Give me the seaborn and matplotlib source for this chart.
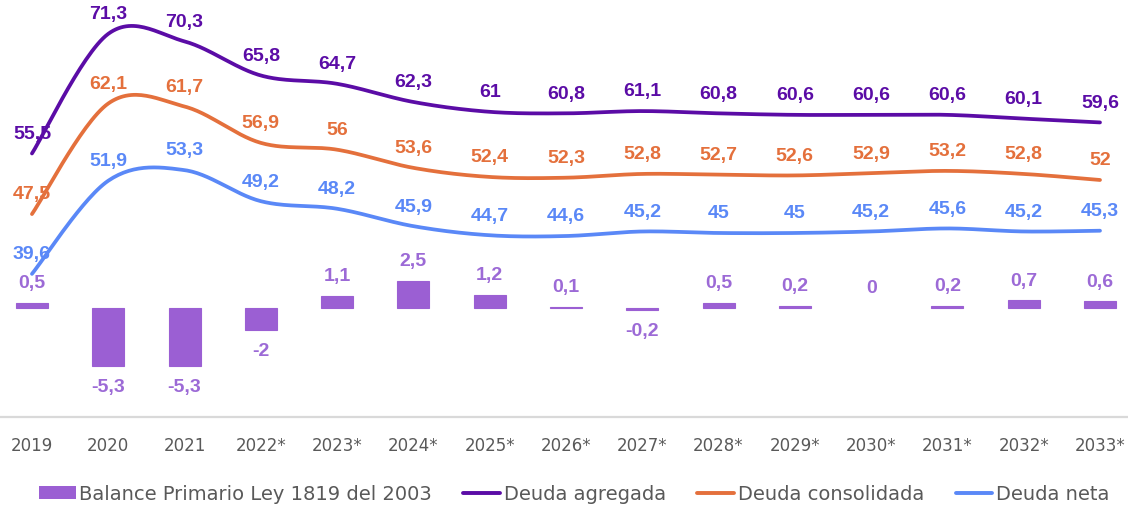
import numpy as np
import pandas as pd
import matplotlib
matplotlib.use("Agg")
import matplotlib.pyplot as plt
import seaborn as sns
from matplotlib.patches import Patch
from matplotlib.lines import Line2D

years = ["2019", "2020", "2021", "2022*", "2023*", "2024*", "2025*", "2026*",
         "2027*", "2028*", "2029*", "2030*", "2031*", "2032*", "2033*"]
balance = [0.5, -5.3, -5.3, -2, 1.1, 2.5, 1.2, 0.1, -0.2, 0.5, 0.2, 0, 0.2, 0.7, 0.6]
deuda_agregada = [55.5, 71.3, 70.3, 65.8, 64.7, 62.3, 61, 60.8, 61.1, 60.8, 60.6, 60.6, 60.6, 60.1, 59.6]
deuda_consolidada = [47.5, 62.1, 61.7, 56.9, 56, 53.6, 52.4, 52.3, 52.8, 52.7, 52.6, 52.9, 53.2, 52.8, 52]
deuda_neta = [39.6, 51.9, 53.3, 49.2, 48.2, 45.9, 44.7, 44.6, 45.2, 45, 45, 45.2, 45.6, 45.2, 45.3]

bar_color = "#9B5FD3"
bar_label_color = "#9C6AD6"
c_agr = "#5B0CA6"
c_con = "#E4703C"
c_net = "#5A88F7"
tick_color = "#595959"


def smooth(y, n=30):
    """Catmull-Rom style smoothing (as Excel's smoothed line) through the data points."""
    y = np.asarray(y, float)
    x = np.arange(len(y), dtype=float)
    xs, ys = [], []
    for i in range(len(y) - 1):
        p0 = np.array([x[i - 1] if i > 0 else x[i], y[i - 1] if i > 0 else y[i]])
        p1 = np.array([x[i], y[i]])
        p2 = np.array([x[i + 1], y[i + 1]])
        p3 = np.array([x[i + 2] if i + 2 < len(y) else x[i + 1], y[i + 2] if i + 2 < len(y) else y[i + 1]])
        c1 = p1 + (p2 - p0) / 6.0
        c2 = p2 - (p3 - p1) / 6.0
        t = np.linspace(0, 1, n, endpoint=(i == len(y) - 2))[:, None]
        pts = (1 - t) ** 3 * p1 + 3 * (1 - t) ** 2 * t * c1 + 3 * (1 - t) * t ** 2 * c2 + t ** 3 * p2
        xs.append(pts[:, 0]); ys.append(pts[:, 1])
    return np.concatenate(xs), np.concatenate(ys)


sns.set_theme(style="white")
plt.rcParams["font.family"] = ["DejaVu Sans"]

fig = plt.figure(figsize=(11.28, 5.06), dpi=100)
ax = fig.add_axes([0, 88 / 506, 1, 418 / 506])

df_bar = pd.DataFrame({"year": years, "balance": balance})
sns.barplot(data=df_bar, x="year", y="balance", order=years, color=bar_color,
            saturation=1, width=0.42, ax=ax, edgecolor=bar_color, linewidth=0.8)
for p in ax.patches:
    if abs(p.get_height()) < 1e-9:
        p.set_linewidth(0)
        p.set_edgecolor("none")
ax.set_xlim(-0.419, 14.367)
ax.set_ylim(-(418 - 309) / 11.0, 309 / 11.0)

for i, v in enumerate(balance):
    txt = f"{v:g}".replace(".", ",")
    off = 14.5 if v >= 0 else -14.5
    ax.annotate(txt, (i, v), xytext=(0, off), textcoords="offset points",
                ha="center", va="center", fontsize=14, fontweight="bold",
                color=bar_label_color, family="Liberation Sans")

ax2 = ax.twinx()
ax2.set_ylim(20.7, 75.9)
for vals, col in [(deuda_agregada, c_agr), (deuda_consolidada, c_con), (deuda_neta, c_net)]:
    sx, sy = smooth(vals)
    sns.lineplot(x=sx, y=sy, sort=False, color=col, linewidth=2.7, ax=ax2,
                 solid_capstyle="round")
    for i, v in enumerate(vals):
        txt = f"{v:g}".replace(".", ",")
        ax2.annotate(txt, (i, v), xytext=(0, 14.5), textcoords="offset points",
                     ha="center", va="center", fontsize=14, fontweight="bold",
                     color=col, family="Liberation Sans")
ax2.set_xlim(-0.419, 14.367)

for a in (ax, ax2):
    for s in ["top", "left", "right"]:
        a.spines[s].set_visible(False)
    a.set_yticks([])
    a.set_ylabel("")
    a.set_xlabel("")
    a.grid(False)
ax2.spines["bottom"].set_visible(False)
ax.spines["bottom"].set_color("#D9D9D9")
ax.spines["bottom"].set_linewidth(1.6)
ax.tick_params(axis="x", length=0, pad=14, labelsize=12, labelcolor=tick_color)
ax.set_xticks(range(len(years)))
ax.set_xticklabels(years)

handles = [
    Patch(facecolor=bar_color, edgecolor="none"),
    Line2D([0], [0], color=c_agr, linewidth=2.8),
    Line2D([0], [0], color=c_con, linewidth=2.8),
    Line2D([0], [0], color=c_net, linewidth=2.8),
]
labels = ["Balance Primario Ley 1819 del 2003", "Deuda agregada", "Deuda consolidada", "Deuda neta"]
leg = fig.legend(handles, labels, loc="center", bbox_to_anchor=(0.509, 0.022), ncol=4,
                 frameon=False, fontsize=14, handlelength=1.9, handleheight=0.6,
                 handletextpad=0.2, columnspacing=1.6, borderaxespad=0)
for t in leg.get_texts():
    t.set_color(tick_color)

fig.savefig("out.png", dpi=100)
